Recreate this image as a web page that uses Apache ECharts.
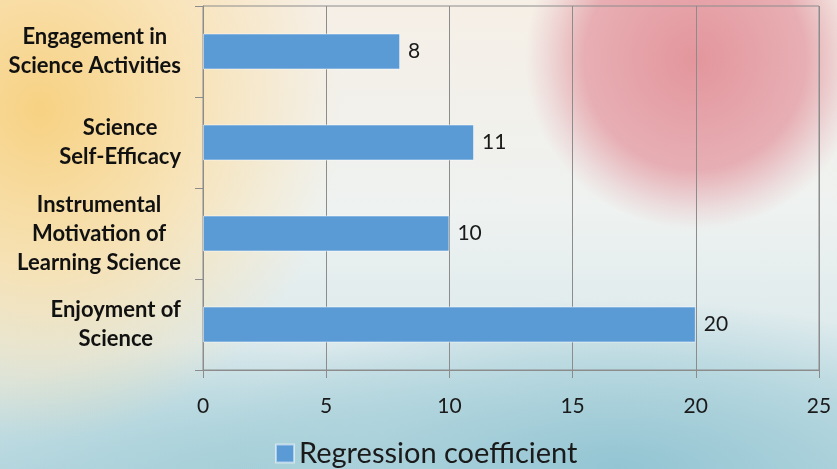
<!DOCTYPE html>
<html>
<head>
<meta charset="utf-8">
<script src="https://cdn.jsdelivr.net/npm/echarts@6/dist/echarts.min.js"></script>
<style>
  html, body { margin: 0; padding: 0; width: 837px; height: 469px; overflow: hidden; }
  #bg {
    position: absolute; left: 0; top: 0; width: 837px; height: 469px;
    background:
      radial-gradient(circle 170px at 695px 60px, rgba(225,140,148,0.9) 0%, rgba(228,158,166,0.8) 65%, rgba(232,190,196,0.4) 88%, rgba(235,200,205,0) 100%),
      radial-gradient(ellipse 300px 330px at 40px 110px, rgba(247,208,125,0.95) 0%, rgba(250,222,165,0.75) 50%, rgba(250,235,210,0) 100%),
      radial-gradient(ellipse 420px 170px at 620px 469px, rgba(145,196,210,0.95) 0%, rgba(168,208,218,0.65) 60%, rgba(200,225,230,0) 100%),
      radial-gradient(ellipse 320px 130px at 250px 469px, rgba(160,205,215,0.8) 0%, rgba(190,220,228,0) 100%),
      linear-gradient(180deg, #f6efe6 0%, #eef2f0 45%, #dbe9ec 75%, #b9d8df 100%);
  }
  #chart { position: absolute; left: 0; top: 0; width: 837px; height: 469px; }
</style>
</head>
<body>
<div id="bg"></div>
<div id="chart"></div>
<script>
const categories = [
  "Engagement in\nScience Activities",
  "Science\nSelf-Efficacy",
  "Instrumental\nMotivation of\nLearning Science",
  "Enjoyment of\nScience"
];
const seriesName = "Regression coefficient";
const values = [8, 11, 10, 20];
const xTicks = { min: 0, max: 25, interval: 5 };

const chart = echarts.init(document.getElementById('chart'), null, { renderer: 'canvas' });
const gridColor = '#8c8c8c';

chart.setOption({
  backgroundColor: 'transparent',
  animation: false,
  grid: {
    left: 203, right: 18, top: 6, bottom: 99,
    show: true, borderColor: gridColor, borderWidth: 1, backgroundColor: 'transparent'
  },
  legend: {
    data: [seriesName],
    left: 270, top: 434,
    itemWidth: 18, itemHeight: 18, itemGap: 9,
    icon: 'rect',
    textStyle: { fontFamily: 'Lato', fontSize: 29, color: '#1a1a1a' }
  },
  xAxis: {
    type: 'value',
    min: xTicks.min, max: xTicks.max, interval: xTicks.interval,
    axisLine: { show: true, lineStyle: { color: gridColor, width: 1 } },
    axisTick: { show: true, length: 8, lineStyle: { color: gridColor } },
    splitLine: { show: true, lineStyle: { color: gridColor, width: 1 } },
    axisLabel: { margin: 26, fontFamily: 'Lato', fontSize: 21, color: '#1a1a1a' }
  },
  yAxis: {
    type: 'category',
    data: categories,
    inverse: true,
    axisLine: { show: true, lineStyle: { color: gridColor, width: 1 } },
    axisTick: { show: true, length: 8, alignWithLabel: false, lineStyle: { color: gridColor } },
    axisLabel: {
      margin: 22,
      fontFamily: 'Lato', fontWeight: 'bold', fontSize: 22, color: '#111',
      lineHeight: 29,
      formatter: function (v) {
        return v.split('\n').map(function (l) { return '{c|' + l + '}'; }).join('\n');
      },
      rich: {
        c: { align: 'center', fontFamily: 'Lato', fontWeight: 'bold', fontSize: 22, lineHeight: 29, color: '#111' }
      }
    }
  },
  series: [{
    name: seriesName,
    type: 'bar',
    data: values,
    barWidth: 36,
    itemStyle: { color: '#5b9bd5', borderColor: 'rgba(255,255,255,0.5)', borderWidth: 1 },
    label: {
      show: true, position: 'right', distance: 8,
      fontFamily: 'Lato', fontSize: 21, color: '#1a1a1a'
    }
  }]
});
</script>
</body>
</html>
